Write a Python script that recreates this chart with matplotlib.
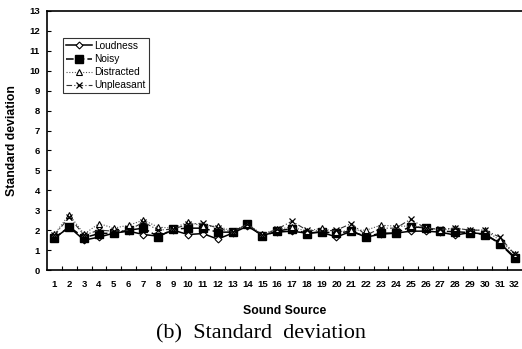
import matplotlib
matplotlib.use("Agg")
import matplotlib.pyplot as plt
import numpy as np

sources = list(range(1, 33))
loudness = [1.6, 2.15, 1.5, 1.65, 1.85, 1.95, 1.78, 1.7, 2.0, 1.78, 1.83, 1.55, 1.85, 2.2, 1.75, 1.9,
            1.95, 1.85, 1.9, 1.65, 1.95, 1.65, 1.8, 1.85, 1.95, 1.95, 1.9, 1.75, 1.88, 1.8, 1.35, 0.65]
noisy = [1.6, 2.17, 1.62, 1.83, 1.85, 2.0, 2.1, 1.67, 2.05, 2.1, 2.1, 1.9, 1.9, 2.3, 1.7, 1.95,
         2.08, 1.83, 1.92, 1.85, 1.95, 1.67, 1.85, 1.85, 2.17, 2.12, 1.95, 1.92, 1.88, 1.78, 1.33, 0.6]
distracted = [1.8, 2.78, 1.8, 2.33, 2.1, 2.25, 2.5, 2.15, 2.1, 2.4, 2.2, 2.2, 1.95, 2.3, 1.8, 2.05,
              2.15, 1.95, 2.1, 1.9, 2.0, 2.0, 2.25, 2.2, 2.2, 2.15, 2.0, 2.1, 2.0, 2.0, 1.5, 0.8]
unpleasant = [1.75, 2.65, 1.75, 2.0, 1.95, 2.0, 2.4, 2.0, 2.05, 2.3, 2.35, 2.1, 1.9, 2.3, 1.75, 2.05,
              2.45, 2.0, 1.95, 2.0, 2.33, 1.75, 2.1, 2.1, 2.55, 2.1, 2.05, 2.1, 2.0, 2.0, 1.65, 0.8]

sans = ["Liberation Sans", "DejaVu Sans"]
serif = ["Liberation Serif", "DejaVu Serif"]

fig = plt.figure(figsize=(5.22, 3.49), dpi=100)
ax = fig.add_axes([47 / 522, 1 - 270 / 349, (522 - 47) / 522, (270 - 11) / 349])

ax.plot(sources, loudness, color="black", lw=1.1, ls="-", marker="D", ms=3.5,
        mfc="white", mec="black", mew=0.8, label="Loudness")
ax.plot(sources, noisy, color="black", lw=1.1, ls=(0, (5, 2)), marker="s", ms=5.5,
        mfc="black", mec="black", label="Noisy")
ax.plot(sources, distracted, color="#555555", lw=0.8, ls=(0, (1, 1.5)), marker="^", ms=4.5,
        mfc="white", mec="black", mew=0.8, label="Distracted")
ax.plot(sources, unpleasant, color="#333333", lw=0.8, ls=(0, (5, 2, 1, 2)), marker="x", ms=5,
        mec="black", mew=0.9, label="Unpleasant")

ax.set_xlim(0.5, 32.5)
ax.set_ylim(0, 13)
ax.set_yticks(range(0, 14))
ax.set_xticks(sources)
ax.set_xticks(np.arange(1.5, 32.5, 1), minor=True)
ax.tick_params(axis="x", which="major", length=0, pad=7)
ax.tick_params(axis="x", which="minor", direction="in", length=3, width=0.8)
ax.tick_params(axis="y", direction="in", length=3, width=0.8, pad=5)
for lab in ax.get_xticklabels() + ax.get_yticklabels():
    lab.set_family(sans)
    lab.set_fontsize(6.8)
    lab.set_fontweight("bold")

for s in ["left", "bottom", "top"]:
    ax.spines[s].set_linewidth(1.2)
ax.spines["right"].set_visible(False)

ax.set_ylabel("Standard deviation", family=sans, fontsize=8.8, fontweight="bold", labelpad=8)
ax.set_xlabel("Sound Source", family=sans, fontsize=8.8, fontweight="bold", labelpad=12)

leg = ax.legend(loc="upper left", bbox_to_anchor=(16 / 475, 1 - 27 / 259), prop={"family": sans, "size": 7.3},
                frameon=True, fancybox=False, edgecolor="black", handlelength=2.6, handletextpad=0.2,
                borderpad=0.3, labelspacing=0.3, borderaxespad=0)
leg.get_frame().set_linewidth(0.8)

fig.text(0.5, 1 - 334 / 349, "(b)  Standard  deviation", family=serif, fontsize=16,
         ha="center", va="center")

fig.savefig("out.png", dpi=100)
